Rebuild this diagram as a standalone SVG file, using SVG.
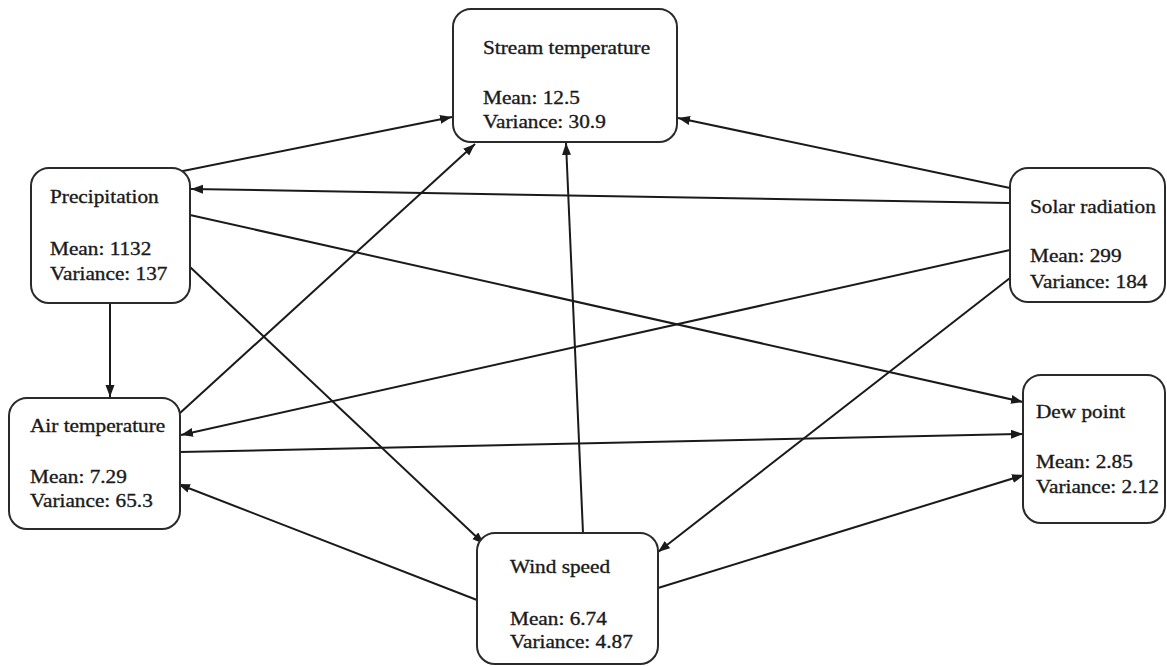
<svg xmlns="http://www.w3.org/2000/svg" width="1167" height="666" viewBox="0 0 1167 666">
<style>
.box{fill:#fff;stroke:#2a2a2a;stroke-width:2}
.t{font-family:"Liberation Serif","Times New Roman",serif;font-size:19px;fill:#1a1a1a;stroke:#1a1a1a;stroke-width:0.35}
.e{stroke:#1a1a1a;stroke-width:2;fill:none;marker-end:url(#ah)}
</style>
<defs>
<marker id="ah" markerUnits="userSpaceOnUse" markerWidth="13" markerHeight="10" refX="12" refY="4.5" orient="auto">
<path d="M0,0 L12,4.5 L0,9 z" fill="#1a1a1a"/>
</marker>
</defs>
<rect width="1167" height="666" fill="#fff"/>
<g id="connectors">
<line class="e" x1="178" y1="172" x2="452" y2="117"/>
<line class="e" x1="1010" y1="203" x2="191" y2="189"/>
<line class="e" x1="1010" y1="188" x2="678" y2="118"/>
<line class="e" x1="180" y1="413" x2="475" y2="144"/>
<line class="e" x1="583" y1="533" x2="566" y2="143"/>
<line class="e" x1="110" y1="303" x2="110" y2="397"/>
<line class="e" x1="190" y1="215" x2="1023" y2="402"/>
<line class="e" x1="190" y1="267" x2="484" y2="544"/>
<line class="e" x1="1010" y1="250" x2="181" y2="435"/>
<line class="e" x1="1010" y1="278" x2="658" y2="552"/>
<line class="e" x1="180" y1="452" x2="1023" y2="434"/>
<line class="e" x1="477" y1="600" x2="178" y2="484"/>
<line class="e" x1="658" y1="588" x2="1024" y2="475"/>
</g>
<g id="stream">
<rect class="box" x="453" y="9" width="224" height="133" rx="18"/>
<g transform="translate(483,0) scale(1.12,1)">
<text class="t" x="0" y="54">Stream temperature</text>
<text class="t" x="0" y="104">Mean: 12.5</text>
<text class="t" x="0" y="128">Variance: 30.9</text>
</g>
</g>
<g id="precipitation">
<rect class="box" x="31" y="168" width="159" height="135" rx="18"/>
<g transform="translate(50,0) scale(1.12,1)">
<text class="t" x="0" y="203">Precipitation</text>
<text class="t" x="0" y="255">Mean: 1132</text>
<text class="t" x="0" y="280">Variance: 137</text>
</g>
</g>
<g id="air">
<rect class="box" x="9" y="398" width="171" height="131" rx="18"/>
<g transform="translate(30,0) scale(1.12,1)">
<text class="t" x="0" y="432">Air temperature</text>
<text class="t" x="0" y="483">Mean: 7.29</text>
<text class="t" x="0" y="507">Variance: 65.3</text>
</g>
</g>
<g id="solar">
<rect class="box" x="1010" y="168" width="155" height="134" rx="18"/>
<g transform="translate(1030,0) scale(1.12,1)">
<text class="t" x="0" y="213">Solar radiation</text>
<text class="t" x="0" y="262">Mean: 299</text>
<text class="t" x="0" y="288">Variance: 184</text>
</g>
</g>
<g id="dew">
<rect class="box" x="1023" y="375" width="142" height="148" rx="18"/>
<g transform="translate(1036,0) scale(1.12,1)">
<text class="t" x="0" y="418">Dew point</text>
<text class="t" x="0" y="468">Mean: 2.85</text>
<text class="t" x="0" y="493">Variance: 2.12</text>
</g>
</g>
<g id="wind">
<rect class="box" x="477" y="533" width="181" height="131" rx="18"/>
<g transform="translate(510,0) scale(1.12,1)">
<text class="t" x="0" y="573">Wind speed</text>
<text class="t" x="0" y="625">Mean: 6.74</text>
<text class="t" x="0" y="648">Variance: 4.87</text>
</g>
</g>
</svg>
